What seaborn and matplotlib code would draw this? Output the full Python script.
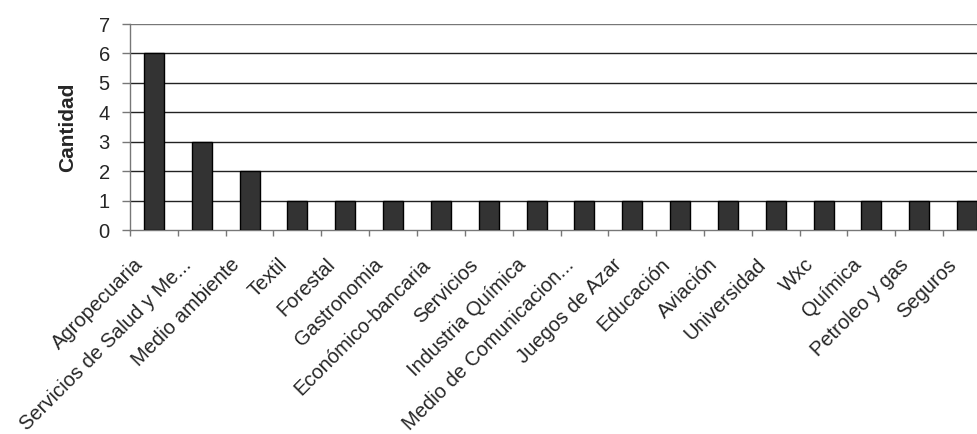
import matplotlib
matplotlib.use("Agg")
import matplotlib.pyplot as plt
import matplotlib.transforms as mtransforms
import seaborn as sns
import pandas as pd

categories = ["Agropecuaria", "Servicios de Salud y Me...", "Medio ambiente", "Textil",
              "Forestal", "Gastronomia", "Económico-bancaria", "Servicios",
              "Industria Química", "Medio de Comunicacion...", "Juegos de Azar",
              "Educación", "Aviación", "Universidad", "Wxc", "Química",
              "Petroleo y gas", "Seguros"]
values = [6, 3, 2, 1, 1, 1, 1, 1, 1, 1, 1, 1, 1, 1, 1, 1, 1, 1]
y_ticks = [0, 1, 2, 3, 4, 5, 6, 7]

sns.set_theme(style="white")
plt.rcParams['font.family'] = ['Liberation Sans', 'DejaVu Sans']

df = pd.DataFrame({"cat": categories, "val": values})

AX_W = 861
fig = plt.figure(figsize=(9.78, 4.34), dpi=100)
ax = fig.add_axes([130/978, 1-230/434, AX_W/978, 206/434])

sns.barplot(data=df, x="cat", y="val", ax=ax, color="#333333", width=0.42,
            edgecolor="black", linewidth=1.0, saturation=1, zorder=3)

ax.set_ylim(0, 7)
ax.set_xlim(-0.5, len(categories) - 0.5)
ax.set_yticks(y_ticks)
ax.set_yticklabels([str(t) for t in y_ticks], fontsize=14.5)
for t in y_ticks[1:]:
    ax.axhline(t, color="#222222" if t != 7 else "#777777", lw=1.0, zorder=1)

ax.set_xticks([i + 0.5 for i in range(-1, len(categories) - 1)], minor=True)
ax.set_xticks(range(len(categories)))
ax.set_xticklabels(categories, rotation=45, ha="right", va="top",
                   rotation_mode="anchor", fontsize=14.5)
ax.tick_params(axis="x", which="major", length=0, pad=0)
ax.tick_params(axis="x", which="minor", length=4, width=1, color="#777777", direction="out", bottom=True)
ax.tick_params(axis="y", which="major", length=5.5, width=1, color="#777777", direction="out", left=True, pad=9)

offset = mtransforms.ScaledTranslation(-0.20, -0.25, fig.dpi_scale_trans)
for lab in ax.get_xticklabels():
    lab.set_transform(lab.get_transform() + offset)

for s in ["top", "right"]:
    ax.spines[s].set_visible(False)
for s in ["left", "bottom"]:
    ax.spines[s].set_color("#777777")
    ax.spines[s].set_linewidth(1.0)

ax.set_xlabel("")
ax.set_ylabel("Cantidad", fontsize=15, fontweight="bold")
ax.yaxis.set_label_coords(-53/AX_W, 0.5)

fig.savefig("out.png", dpi=100, facecolor="white")
